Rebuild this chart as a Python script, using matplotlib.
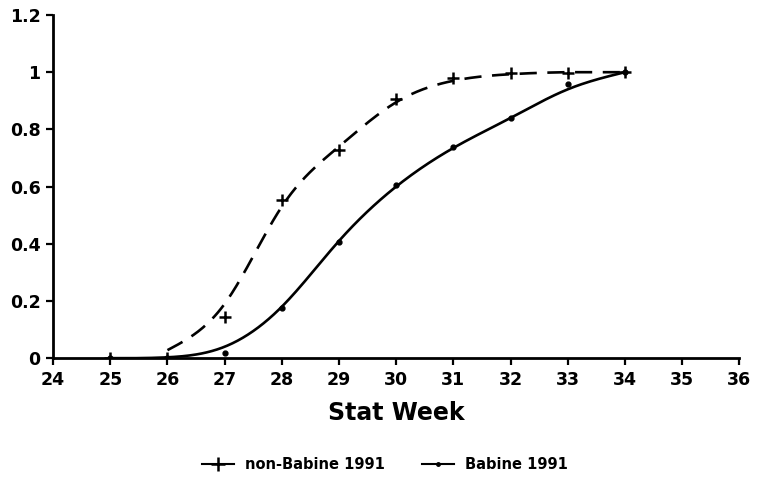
import numpy as np
import matplotlib
matplotlib.use("Agg")
import matplotlib.pyplot as plt
from matplotlib.lines import Line2D

weeks = [25, 26, 27, 28, 29, 30, 31, 32, 33, 34]
non_babine = [0.0, 0.0, 0.145, 0.552, 0.727, 0.906, 0.979, 0.997, 0.997, 1.0]
babine = [0.0, 0.0, 0.017, 0.175, 0.405, 0.605, 0.738, 0.839, 0.958, 1.0]

#  fitted curves (values of the drawn lines at each week)
fit_weeks_nb = [26, 27, 28, 29, 30, 31, 32, 33, 34]
fit_non_babine = [0.028, 0.19, 0.53, 0.74, 0.895, 0.97, 0.993, 1.0, 1.0]
fit_weeks_b = [25, 26, 27, 28, 29, 30, 31, 32, 33, 34]
fit_babine = [0.0, 0.003, 0.04, 0.18, 0.41, 0.60, 0.735, 0.84, 0.94, 1.0]

x_ticks = list(range(24, 37))
y_ticks = [0, 0.2, 0.4, 0.6, 0.8, 1.0, 1.2]
y_labels = ["0", "0.2", "0.4", "0.6", "0.8", "1", "1.2"]


#  natural cubic spline for a smooth line through the fit values
def smooth(xs, ys, n=300):
    x = np.asarray(xs, float)
    y = np.asarray(ys, float)
    N = len(x)
    h = np.diff(x)
    A = np.zeros((N, N))
    b = np.zeros(N)
    A[0, 0] = A[-1, -1] = 1
    for i in range(1, N - 1):
        A[i, i - 1] = h[i - 1]
        A[i, i] = 2 * (h[i - 1] + h[i])
        A[i, i + 1] = h[i]
        b[i] = 6 * ((y[i + 1] - y[i]) / h[i] - (y[i] - y[i - 1]) / h[i - 1])
    M = np.linalg.solve(A, b)
    xx = np.linspace(x[0], x[-1], n)
    k = np.clip(np.searchsorted(x, xx) - 1, 0, N - 2)
    a = x[k + 1] - xx
    c = xx - x[k]
    hk = h[k]
    yy = (M[k] * a**3 / (6 * hk) + M[k + 1] * c**3 / (6 * hk)
          + (y[k] / hk - M[k] * hk / 6) * a + (y[k + 1] / hk - M[k + 1] * hk / 6) * c)
    return xx, np.minimum(yy, 1.0)


plt.rcParams["font.family"] = "DejaVu Sans"
plt.rcParams["font.weight"] = "bold"

fig = plt.figure(figsize=(7.7, 4.84), dpi=100)
ax = fig.add_axes([0.069, 0.26, 0.891, 0.709])

xs, ys = smooth(fit_weeks_nb, fit_non_babine)
ax.plot(xs, ys, color="black", lw=1.9, dashes=(6.5, 4))
xs, ys = smooth(fit_weeks_b, fit_babine)
ax.plot(xs, ys, color="black", lw=1.9)

ax.plot(weeks, non_babine, ls="none", marker="+", ms=9, mew=1.8, color="black")
ax.plot(weeks, babine, ls="none", marker="o", ms=3.5, color="black")

ax.set_xlim(24, 36)
ax.set_ylim(0, 1.2)
ax.set_xticks(x_ticks)
ax.set_yticks(y_ticks)
ax.set_yticklabels(y_labels)
ax.tick_params(direction="out", length=5, width=1.6, labelsize=12.5, pad=4)
for side in ["top", "right"]:
    ax.spines[side].set_visible(False)
for side in ["left", "bottom"]:
    ax.spines[side].set_linewidth(2)
for lab in ax.get_xticklabels() + ax.get_yticklabels():
    lab.set_fontweight("bold")
ax.set_xlabel("Stat Week", fontsize=17, fontweight="bold", labelpad=9)

handles = [
    Line2D([], [], color="black", lw=1.5, marker="+", ms=10, mew=1.8),
    Line2D([], [], color="black", lw=1.5, marker="o", ms=2.5),
]
fig.legend(handles, ["non-Babine 1991", "Babine 1991"], loc="center",
           bbox_to_anchor=(0.5, 0.04), ncol=2, frameon=False,
           prop={"size": 10.5, "weight": "bold"}, handlelength=2.2,
           columnspacing=2.5, handletextpad=0.8)

fig.savefig("out.png", dpi=100)
